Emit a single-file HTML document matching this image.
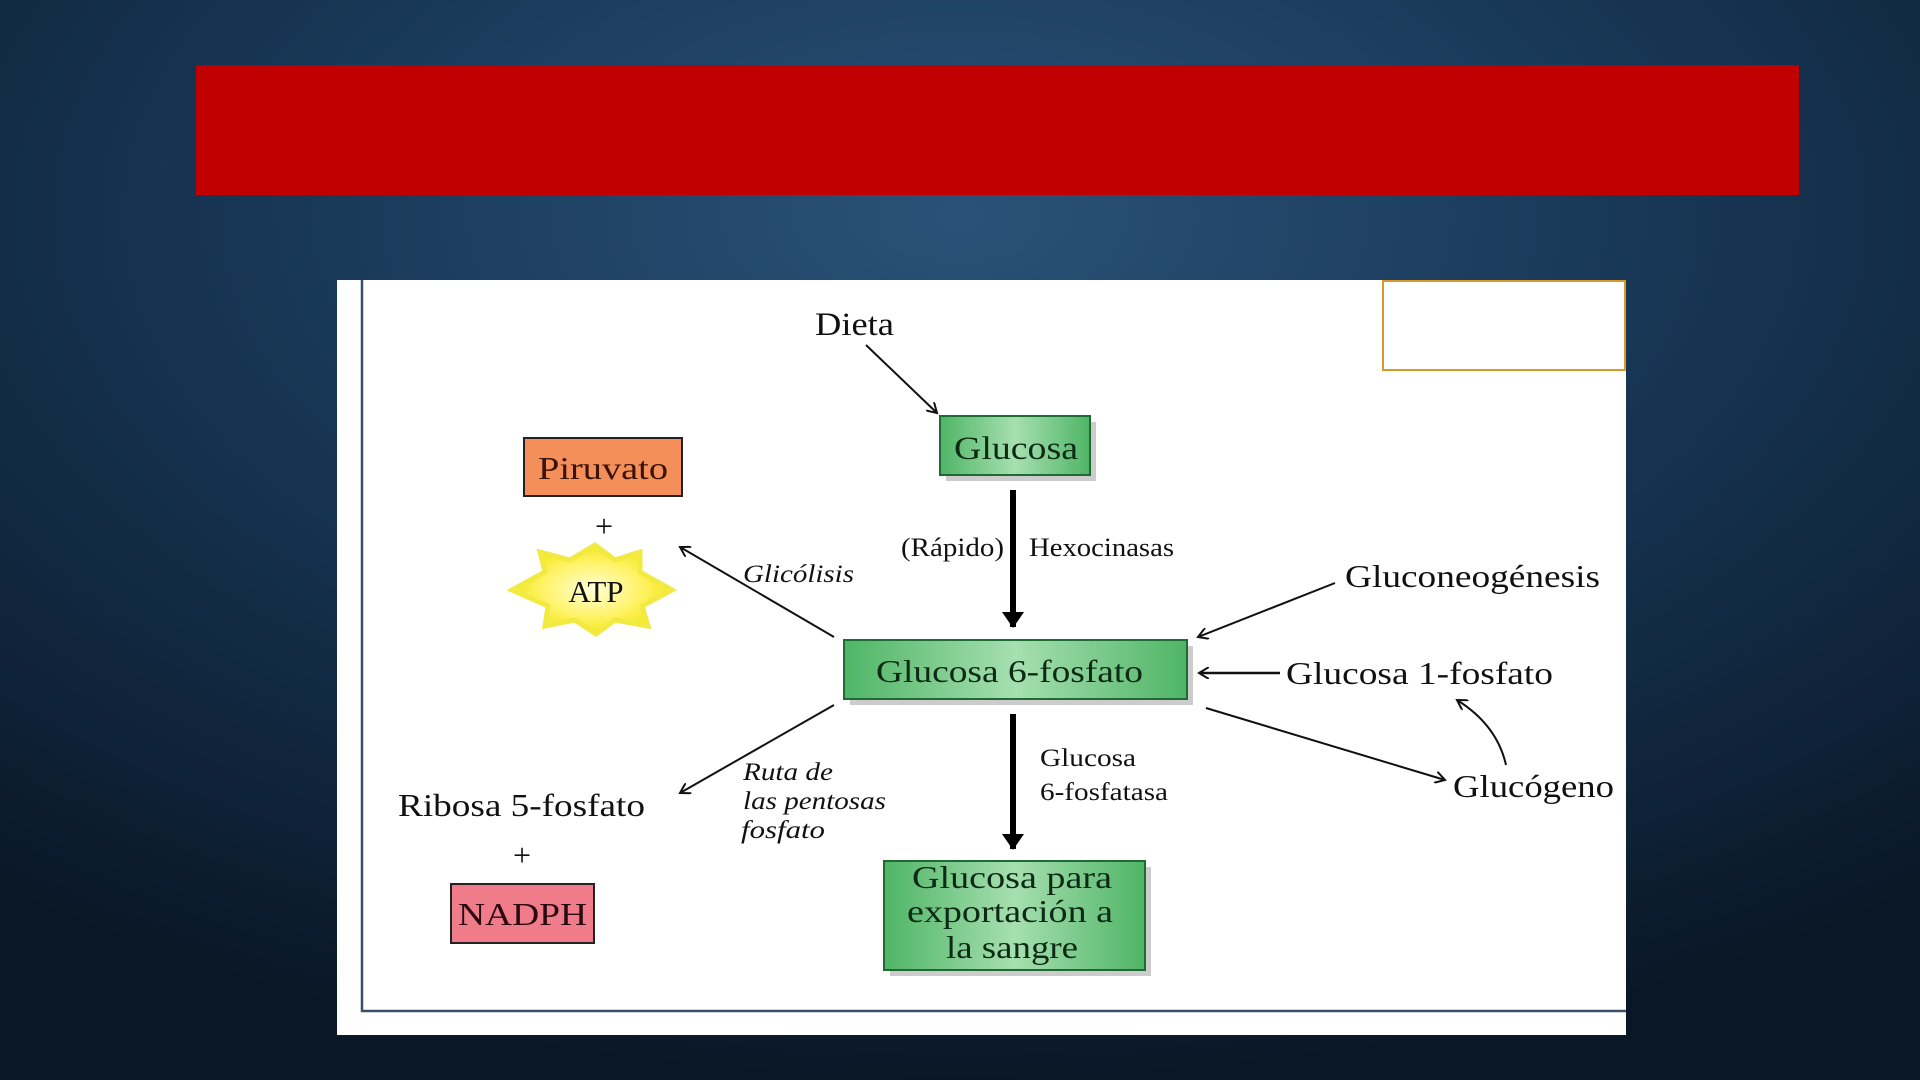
<!DOCTYPE html>
<html><head><meta charset="utf-8"><style>
html,body{margin:0;padding:0;width:1920px;height:1080px;overflow:hidden;background:#0f2135}
svg{display:block}
</style></head><body>
<svg width="1920" height="1080" viewBox="0 0 1920 1080" xmlns="http://www.w3.org/2000/svg" font-family="Liberation Serif, serif">
<defs>
<radialGradient id="bg" cx="0.5" cy="0.2" r="0.8">
<stop offset="0" stop-color="#2a5278"/><stop offset="0.5" stop-color="#163452"/><stop offset="1" stop-color="#0a1727"/>
</radialGradient>
<linearGradient id="gr" x1="0" y1="0" x2="1" y2="0">
<stop offset="0" stop-color="#4fb566"/><stop offset="0.5" stop-color="#a6dfb0"/><stop offset="1" stop-color="#4fb566"/>
</linearGradient>
<radialGradient id="star" cx="0.5" cy="0.5" r="0.5">
<stop offset="0" stop-color="#ffffd8"/><stop offset="0.6" stop-color="#fff36a"/><stop offset="1" stop-color="#f3e820"/>
</radialGradient>
<marker id="a" markerWidth="12" markerHeight="12" refX="10" refY="6" orient="auto" markerUnits="userSpaceOnUse">
<path d="M0,0 L10,6 L0,12" fill="none" stroke="#111" stroke-width="2"/>
</marker>
<marker id="b" markerWidth="16" markerHeight="22" refX="15" refY="11" orient="auto" markerUnits="userSpaceOnUse">
<path d="M0,0 L16,11 L0,22 Z" fill="#000"/>
</marker>
</defs>
<rect width="1920" height="1080" fill="url(#bg)"/>
<rect x="196" y="65" width="1603" height="130" fill="#c00000"/>
<rect x="337" y="280" width="1289" height="755" fill="#fff"/>
<path d="M362 280 V1011 H1626" fill="none" stroke="#3c4f6a" stroke-width="2.5"/>
<rect x="1383" y="281" width="242" height="89" fill="#fff" stroke="#d99a2b" stroke-width="2"/>

<text x="815" y="335" font-size="33" fill="#111" textLength="79" lengthAdjust="spacingAndGlyphs">Dieta</text>
<line x1="866" y1="345" x2="937" y2="413" stroke="#111" stroke-width="2" marker-end="url(#a)"/>

<rect x="946" y="422" width="150" height="59" fill="#ccc"/>
<rect x="940" y="416" width="150" height="59" fill="url(#gr)" stroke="#1f6a35" stroke-width="2"/>
<text x="954" y="459" font-size="33" fill="#0d2a14" textLength="124" lengthAdjust="spacingAndGlyphs">Glucosa</text>

<line x1="1013" y1="490" x2="1013" y2="627" stroke="#000" stroke-width="6" marker-end="url(#b)"/>
<text x="901" y="556" font-size="26" fill="#111" textLength="103" lengthAdjust="spacingAndGlyphs">(Rápido)</text>
<text x="1029" y="556" font-size="26" fill="#111" textLength="145" lengthAdjust="spacingAndGlyphs">Hexocinasas</text>

<rect x="524" y="438" width="158" height="58" fill="#f58f5a" stroke="#222" stroke-width="2"/>
<text x="538" y="479" font-size="32" fill="#3a1208" textLength="130" lengthAdjust="spacingAndGlyphs">Piruvato</text>
<text x="604" y="537" font-size="32" text-anchor="middle" fill="#111">+</text>
<polygon points="512,590 545,572 540,552 570,560 595,545 615,560 640,552 640,572 672,590 642,606 648,626 615,620 596,634 575,620 545,626 548,606" fill="url(#star)" stroke="#f2ea40" stroke-width="5"/>
<text x="596" y="602" font-size="31" text-anchor="middle" fill="#111">ATP</text>

<line x1="834" y1="637" x2="680" y2="547" stroke="#111" stroke-width="2" marker-end="url(#a)"/>
<text x="743" y="582" font-size="25" font-style="italic" fill="#111" textLength="111" lengthAdjust="spacingAndGlyphs">Glicólisis</text>

<rect x="850" y="646" width="343" height="59" fill="#ccc"/>
<rect x="844" y="640" width="343" height="59" fill="url(#gr)" stroke="#1f6a35" stroke-width="2"/>
<text x="876" y="682" font-size="32" fill="#0d2a14" textLength="267" lengthAdjust="spacingAndGlyphs">Glucosa 6-fosfato</text>

<text x="1345" y="587" font-size="32" fill="#111" textLength="255" lengthAdjust="spacingAndGlyphs">Gluconeogénesis</text>
<line x1="1335" y1="583" x2="1198" y2="637" stroke="#111" stroke-width="2" marker-end="url(#a)"/>
<text x="1286" y="684" font-size="32" fill="#111" textLength="267" lengthAdjust="spacingAndGlyphs">Glucosa 1-fosfato</text>
<line x1="1280" y1="673" x2="1199" y2="673" stroke="#111" stroke-width="2.5" marker-end="url(#a)"/>
<line x1="1206" y1="708" x2="1445" y2="780" stroke="#111" stroke-width="2" marker-end="url(#a)"/>
<text x="1453" y="797" font-size="32" fill="#111" textLength="161" lengthAdjust="spacingAndGlyphs">Glucógeno</text>
<path d="M1506 765 Q1497 725 1457 700" fill="none" stroke="#111" stroke-width="2" marker-end="url(#a)"/>

<line x1="1013" y1="714" x2="1013" y2="849" stroke="#000" stroke-width="6" marker-end="url(#b)"/>
<text x="1040" y="766" font-size="25" fill="#111" textLength="96" lengthAdjust="spacingAndGlyphs">Glucosa</text>
<text x="1040" y="800" font-size="25" fill="#111" textLength="128" lengthAdjust="spacingAndGlyphs">6-fosfatasa</text>

<line x1="834" y1="705" x2="680" y2="793" stroke="#111" stroke-width="2" marker-end="url(#a)"/>
<g font-size="25" font-style="italic" fill="#111">
<text x="743" y="780" textLength="90" lengthAdjust="spacingAndGlyphs">Ruta de</text>
<text x="743" y="809" textLength="143" lengthAdjust="spacingAndGlyphs">las pentosas</text>
<text x="741" y="838" textLength="84" lengthAdjust="spacingAndGlyphs">fosfato</text>
</g>
<text x="398" y="816" font-size="32" fill="#111" textLength="247" lengthAdjust="spacingAndGlyphs">Ribosa 5-fosfato</text>
<text x="522" y="866" font-size="32" text-anchor="middle" fill="#111">+</text>
<rect x="451" y="884" width="143" height="59" fill="#f07c8a" stroke="#222" stroke-width="2"/>
<text x="458" y="925" font-size="32" fill="#2a0a10" textLength="129" lengthAdjust="spacingAndGlyphs">NADPH</text>

<rect x="890" y="867" width="261" height="109" fill="#ccc"/>
<rect x="884" y="861" width="261" height="109" fill="url(#gr)" stroke="#1f6a35" stroke-width="2"/>
<g font-size="32" fill="#0d2a14">
<text x="912" y="888" textLength="200" lengthAdjust="spacingAndGlyphs">Glucosa para</text>
<text x="907" y="922" textLength="206" lengthAdjust="spacingAndGlyphs">exportación a</text>
<text x="946" y="958" textLength="132" lengthAdjust="spacingAndGlyphs">la sangre</text>
</g>
</svg>
</body></html>
